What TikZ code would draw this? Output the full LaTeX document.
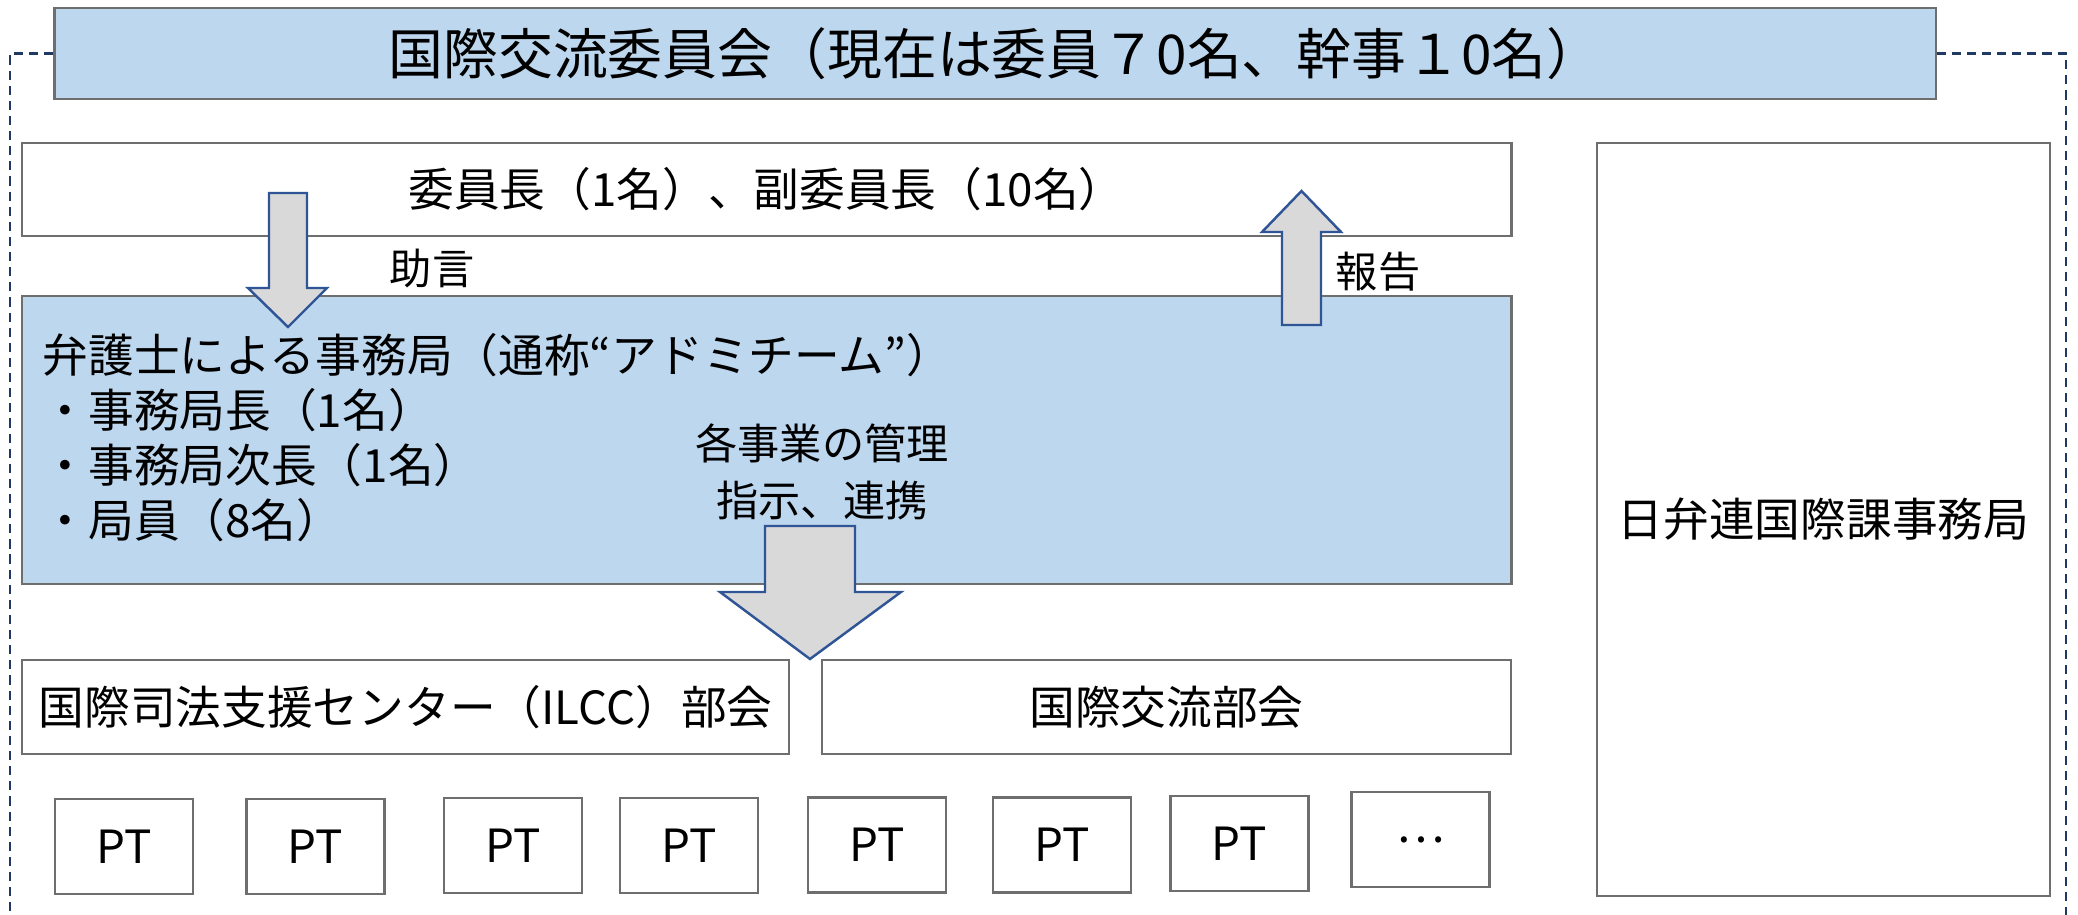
\documentclass[tikz,border=0pt]{standalone}
\usepackage{fontspec}
\setmainfont{Noto Sans CJK JP}
\definecolor{boxgray}{RGB}{110,110,110}
\definecolor{lightblue}{RGB}{189,215,238}
\definecolor{arrowblue}{RGB}{47,85,151}
\definecolor{arrowfill}{RGB}{217,217,217}
\definecolor{navy}{RGB}{32,56,100}
\begin{document}
\begin{tikzpicture}[x=0.01cm,y=-0.01cm,
  box/.style={draw=boxgray, line width=0.6pt, fill=white, inner sep=0pt, font=\fontsize{13}{15}\selectfont},
  bluebox/.style={box, fill=lightblue},
  ptbox/.style={box, minimum width=1.38cm, minimum height=0.95cm},
  blockarrow/.style={draw=arrowblue, fill=arrowfill, line width=0.7pt, line join=miter},
  lbl/.style={inner sep=0pt, font=\fontsize{12}{14}\selectfont},
  frameline/.style={draw=navy, line width=0.6pt, dash pattern=on 2.6pt off 1.7pt}]
\useasboundingbox (0,0) rectangle (2078,915);

% boxes
\node[bluebox, minimum width=18.80cm, minimum height=0.91cm, font=\fontsize{15.6}{18}\selectfont] (title) at (995,53.5) {国際交流委員会（現在は委員７0名、幹事１0名）};
\node[box, minimum width=14.89cm, minimum height=0.93cm] (chair) at (766.5,189.5) {委員長（1名）、副委員長（10名）};
\node[bluebox, minimum width=14.89cm, minimum height=2.88cm] (office) at (766.5,440) {};
\node[box, minimum width=4.53cm, minimum height=7.53cm] (jfba) at (1823.5,519.5) {日弁連国際課事務局};
\node[box, minimum width=7.67cm, minimum height=0.94cm] (ilcc) at (405.5,707) {国際司法支援センター（ILCC）部会};
\node[box, minimum width=6.89cm, minimum height=0.94cm] (intl) at (1166.5,707) {国際交流部会};

\node[inner sep=0pt, anchor=west, align=left, font=\fontsize{13}{15.65}\selectfont] (officetext) at (42,438)
  {弁護士による事務局（通称“アドミチーム”）\\・事務局長（1名）\\・事務局次長（1名）\\・局員（8名）};

% PT boxes
\node[ptbox] (pt1) at (124,846.5) {PT};
\node[ptbox] (pt2) at (315.5,846.5) {PT};
\node[ptbox] (pt3) at (513,845.5) {PT};
\node[ptbox] (pt4) at (689,845.5) {PT};
\node[ptbox] (pt5) at (877,845) {PT};
\node[ptbox] (pt6) at (1062,845) {PT};
\node[ptbox] (pt7) at (1239.5,843.5) {PT};
\node[ptbox] (more) at (1420.5,839.5) {…};

% block arrows
\draw[blockarrow] (269,193) -- (307,193) -- (307,288) -- (327,288) -- (288,327) -- (248,288) -- (269,288) -- cycle;
\draw[blockarrow] (1282,325) -- (1321,325) -- (1321,232) -- (1341,232) -- (1301.5,191) -- (1262,232) -- (1282,232) -- cycle;
\draw[blockarrow] (765,526) -- (855,526) -- (855,592) -- (901,592) -- (810,659) -- (720,592) -- (765,592) -- cycle;

% labels
\node[lbl] (advice) at (432,269) {助言};
\node[lbl] (report) at (1378,272) {報告};
\node[lbl] (manage) at (822,443) {各事業の管理};
\node[lbl] (direct) at (822,501) {指示、連携};

% dashed frame
\coordinate (fl) at (10,915);
\coordinate (fr) at (2066,915);
\draw[frameline] (title.west) -| (fl);
\draw[frameline] (title.east) -| (fr);
\end{tikzpicture}
\end{document}
